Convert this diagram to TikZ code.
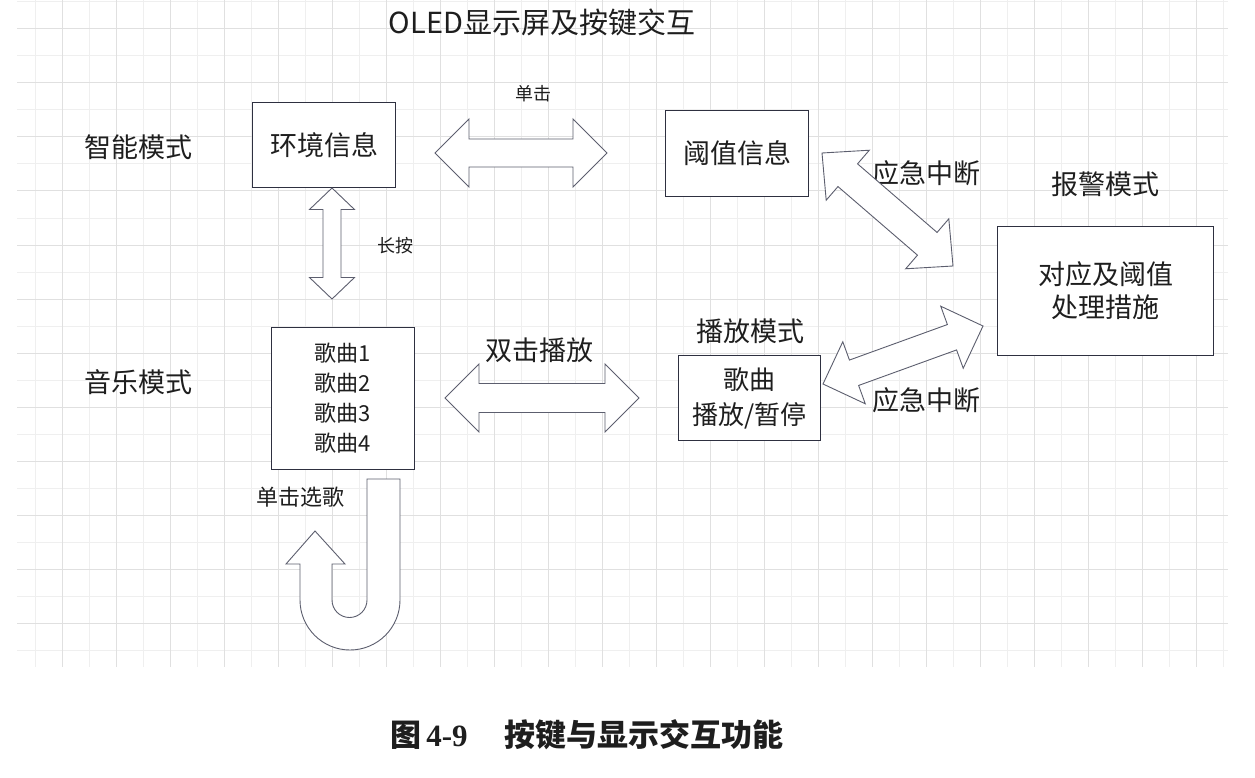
\documentclass[tikz,border=0pt]{standalone}
\usepackage{fontspec}
\setmainfont{Noto Sans CJK SC}
\newfontfamily\capserif{Liberation Serif}
\usetikzlibrary{calc}
\definecolor{gridA}{HTML}{EFEFEF}
\definecolor{gridB}{HTML}{E0E0E0}
\definecolor{boxc}{HTML}{2E3040}
\definecolor{arrc}{HTML}{5C5E6E}
\definecolor{txt}{HTML}{1E1E1E}
\tikzset{
  boxnode/.style={draw=boxc, line width=1.1pt, fill=white, inner sep=0pt, anchor=north west, text=txt, align=center},
  lbl/.style={inner sep=0pt, text=txt, anchor=center, align=center},
  blockarrow/.style={draw=arrc, line width=0.9pt, fill=white, line join=miter},
}
\newcommand\fs[1]{\fontsize{#1}{#1}\selectfont}
% #1 start, #2 end, #3 shaft half width, #4 head half width, #5 head length
\newcommand\dblarrow[5]{%
  \coordinate (#1-p) at ($(#1)!#5!(#2)$);
  \coordinate (#1-q) at ($(#2)!#5!(#1)$);
  \draw[blockarrow] (#1)
    -- ($(#1-p)!#4!90:(#2)$)
    -- ($(#1-p)!#3!90:(#2)$)
    -- ($(#1-q)!#3!90:(#2)$)
    -- ($(#1-q)!#4!90:(#2)$)
    -- (#2)
    -- ($(#1-q)!#4!-90:(#2)$)
    -- ($(#1-q)!#3!-90:(#2)$)
    -- ($(#1-p)!#3!-90:(#2)$)
    -- ($(#1-p)!#4!-90:(#2)$)
    -- cycle;
}
\begin{document}
\begin{tikzpicture}[x=1pt, y=-1pt]
\useasboundingbox (0,0) rectangle (1255,778);
\fill[white] (0,0) rectangle (1255,778);
% grid
\foreach \i in {0,2,...,44} \draw[gridA, line width=1pt] ({35+27*\i},0) -- ({35+27*\i},667);
\foreach \k in {0,2,...,24} \draw[gridA, line width=1pt] (17,{2+27*\k}) -- (1228,{2+27*\k});
\foreach \i in {1,3,...,43} \draw[gridB, line width=1pt] ({35+27*\i},0) -- ({35+27*\i},667);
\foreach \k in {1,3,...,23} \draw[gridB, line width=1pt] (17,{2+27*\k}) -- (1228,{2+27*\k});

% title
\node[lbl, font=\fs{29}] (title) at (542,22) {OLED显示屏及按键交互};

% labels
\node[lbl, font=\fs{27}] (smart) at (138,147) {智能模式};
\node[lbl, font=\fs{27}] (music) at (138,382) {音乐模式};
\node[lbl, font=\fs{18}] (click) at (533,94) {单击};
\node[lbl, font=\fs{18}] (longp) at (395,246) {长按};
\node[lbl, font=\fs{27}] (alarmm) at (1105,184) {报警模式};
\node[lbl, font=\fs{27}] (playm) at (750,331) {播放模式};
\node[lbl, font=\fs{27}] (dbl) at (539,350) {双击播放};
\node[lbl, font=\fs{27}] (intr1) at (926,173) {应急中断};
\node[lbl, font=\fs{27}] (intr2) at (926,400) {应急中断};
\node[lbl, font=\fs{22}] (sel) at (300,497) {单击选歌};

% boxes
\node[boxnode, minimum width=143pt, minimum height=85pt, font=\fs{27}] (env) at (252,102) {环境信息};
\node[boxnode, minimum width=143pt, minimum height=86pt, font=\fs{27}] (thr) at (665,110) {阈值信息};
\node[boxnode, minimum width=216pt, minimum height=129pt, font=\fontsize{27}{33}\selectfont] (act) at (997,226) {对应及阈值\\处理措施};
\node[boxnode, minimum width=143pt, minimum height=142pt, font=\fontsize{22}{30}\selectfont] (songs) at (271,327) {歌曲1\\歌曲2\\歌曲3\\歌曲4};
\node[boxnode, minimum width=142pt, minimum height=85pt, font=\fontsize{26}{35}\selectfont] (play) at (678,355) {歌曲\\播放/暂停};

% arrow end points
\coordinate (a1s) at (435,153); \coordinate (a1e) at (607,153);
\coordinate (vs) at (332,188);  \coordinate (ve) at (332,299);
\coordinate (a2s) at (445,398); \coordinate (a2e) at (639,398);
\coordinate (d1s) at (822,153); \coordinate (d1e) at (953,266);
\coordinate (d2s) at (823,384); \coordinate (d2e) at (983,326);

\dblarrow{a1s}{a1e}{14pt}{34pt}{34pt}
\dblarrow{vs}{ve}{9pt}{22.5pt}{21.5pt}
\dblarrow{a2s}{a2e}{14.5pt}{34pt}{34pt}
\dblarrow{d1s}{d1e}{15pt}{33pt}{34pt}
\dblarrow{d2s}{d2e}{13.5pt}{33pt}{33pt}

% U-turn arrow
\coordinate (ua) at (367,479);
\draw[blockarrow] (ua) -- (400,479) -- (400,600)
  arc[start angle=0, end angle=-180, radius=50pt]
  -- (300,564) -- (286,564) -- (315,531) -- (345,564) -- (332,564) -- (332,600)
  arc[start angle=180, end angle=360, radius=17.5pt]
  -- cycle;

% caption
\node[lbl, font=\fs{31}\bfseries] (cap) at (587,735) {图\,{\capserif\bfseries 4-9}\hspace{1.2em}按键与显示交互功能};
\end{tikzpicture}
\end{document}
